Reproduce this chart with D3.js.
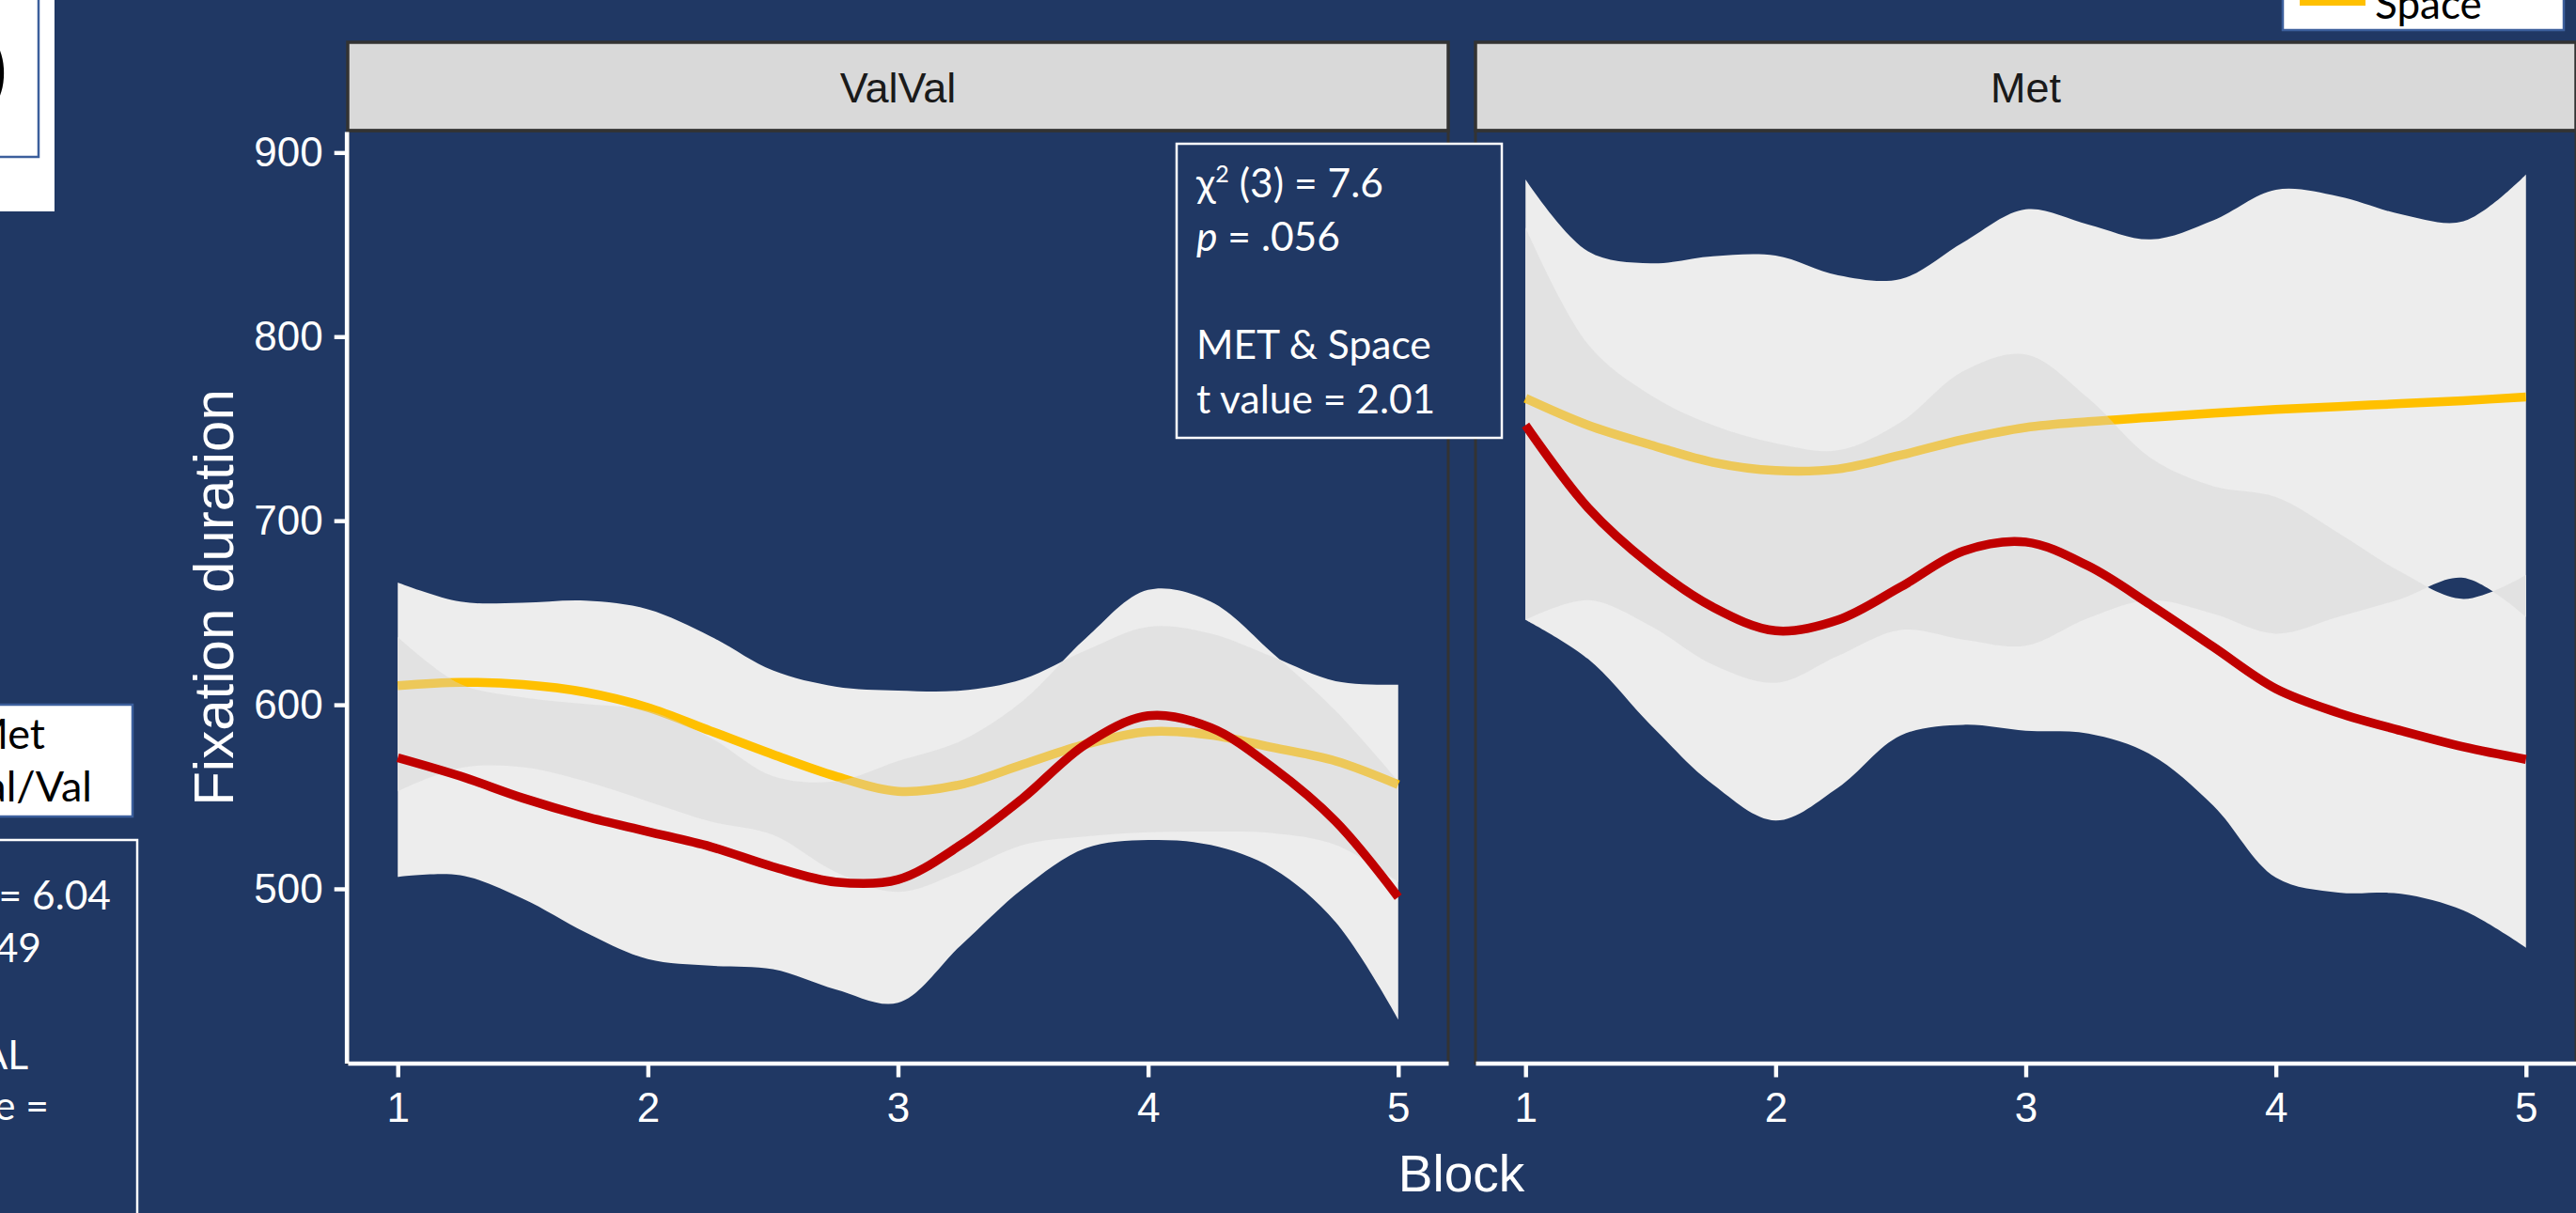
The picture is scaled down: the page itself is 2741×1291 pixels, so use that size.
<!DOCTYPE html>
<html>
<head>
<meta charset="utf-8">
<script src="https://cdn.jsdelivr.net/npm/d3@7"></script>
<style>
  html, body { margin: 0; padding: 0; background: #203864; overflow: hidden; }
  svg { display: block; }
</style>
</head>
<body>
<svg id="chart"></svg>
<script>
const blocks = [1, 1.25, 1.5, 1.75, 2, 2.25, 2.5, 2.75, 3, 3.25, 3.5, 3.75, 4, 4.25, 4.5, 4.75, 5];
const facetNames = ['ValVal', 'Met'];
const blockTicks = [1, 2, 3, 4, 5];
const durationTicks = [500, 600, 700, 800, 900];

const valSpaceFit = [610.4, 612.2, 611, 606.8, 598.5, 585.8, 573, 561.2, 553, 556.6, 567.6, 578.5, 585.4, 583.6, 576.7, 569.4, 556.6];
const valSpaceHi = [666.4, 656, 655.4, 656.5, 651.8, 637.2, 618.6, 609.9, 607.7, 607.7, 614, 629.5, 642.3, 638.7, 625.9, 612.8, 610.9];
const valSpaceLo = [553, 565.7, 566.1, 558.4, 547.5, 536.6, 529.3, 509.2, 498.3, 509.2, 523.8, 528.4, 530.7, 531.1, 530.2, 523.8, 503.7];
const valTimeFit = [571.2, 561.2, 549.3, 539.3, 531.1, 522.9, 512, 503.7, 505, 523.8, 549.3, 578.5, 594, 587.6, 565.7, 536.6, 495.5];
const valTimeHi = [636.8, 611.3, 604, 600.4, 596.7, 582.1, 561.2, 558.4, 569.4, 580.3, 602.2, 636, 662.4, 656, 627.7, 596.7, 558.4];
const valTimeLo = [506.5, 507.4, 494.6, 476.4, 461.8, 458.2, 456.3, 445.4, 438.1, 469.1, 500.1, 522, 526.5, 523.8, 511, 481.9, 429];

const metSpaceFit = [766.5, 751.9, 741.2, 731.7, 727.2, 728.1, 735.6, 744.1, 750.6, 753.8, 756.1, 758.4, 760.4, 762, 763.6, 765.2, 767.2];
const metSpaceHi = [885.4, 846.3, 839.8, 843.7, 844, 833.3, 831.3, 851.2, 869.1, 860.9, 852.8, 863.2, 879.8, 876.2, 866.5, 862.6, 888];
const metSpaceLo = [646.1, 656.8, 642.8, 621.7, 611.9, 626.6, 640.6, 635.4, 632.1, 647.1, 656.8, 649.4, 638.6, 647.7, 657.5, 668.9, 647.7];
const metTimeFit = [751.9, 707, 676, 653, 640.2, 646.1, 664, 683.5, 688.4, 675.4, 654.2, 631.4, 608.7, 595.6, 585.9, 577.1, 570.3];
const metTimeHi = [859.3, 795.8, 768.2, 751.9, 742.1, 738.2, 753.5, 781.2, 790.3, 766.5, 734, 718.7, 712.8, 693.3, 672.1, 657.5, 670.5];
const metTimeLo = [646.1, 624.9, 589.1, 556.6, 537.1, 555, 583.3, 589.1, 585.9, 584.3, 572.9, 545.2, 506.1, 498, 497.3, 488.2, 468];

var width = 2741, height = 1291;
var panelW = 1171, panelTop = 139, panelBottom = 1131.5, stripTop = 45;
var panelLefts = [370, 1570];
var plotFont = "'Liberation Sans', Arial, sans-serif";
var slideFont = "Lato, 'Open Sans', sans-serif";
var navy = '#203864';

var zip = (fit, lo, hi) => blocks.map((b, i) => ({ b: b, fit: fit[i], lo: lo[i], hi: hi[i] }));
var facets = [
  { name: facetNames[0], space: zip(valSpaceFit, valSpaceLo, valSpaceHi), time: zip(valTimeFit, valTimeLo, valTimeHi) },
  { name: facetNames[1], space: zip(metSpaceFit, metSpaceLo, metSpaceHi), time: zip(metTimeFit, metTimeLo, metTimeHi) }
];

var svg = d3.select('#chart').attr('width', width).attr('height', height);
svg.append('rect').attr('width', width).attr('height', height).attr('fill', navy);
var defs = svg.append('defs');

var y = d3.scaleLinear().domain([405.3, 911.4]).range([panelBottom, 140]);

var styleAxis = g => {
  g.attr('font-family', plotFont).attr('font-size', 44);
  g.select('.domain').attr('stroke', '#fff').attr('stroke-width', 4.6);
  g.selectAll('.tick line').attr('stroke', '#fff').attr('stroke-width', 4.4);
  g.selectAll('.tick text').attr('fill', '#fff');
};

facets.forEach((f, i) => {
  var left = panelLefts[i];
  var x = d3.scaleLinear().domain([0.8, 5.2]).range([left, left + panelW]);
  var g = svg.append('g');

  var band = d3.area()
    .x(d => x(d.b))
    .y0(d => y(d.lo))
    .y1(d => y(d.hi))
    .curve(d3.curveCatmullRom.alpha(0.5));
  var line = d3.line()
    .x(d => x(d.b))
    .y(d => y(d.fit))
    .curve(d3.curveCatmullRom.alpha(0.5));

  // strip
  g.append('rect')
    .attr('x', left).attr('y', stripTop)
    .attr('width', panelW).attr('height', panelTop - stripTop)
    .attr('fill', '#d9d9d9').attr('stroke', '#333').attr('stroke-width', 3.5);
  g.append('text')
    .attr('x', left + panelW / 2).attr('y', 109)
    .attr('text-anchor', 'middle')
    .attr('font-family', plotFont).attr('font-size', 45)
    .attr('fill', '#1a1a1a')
    .text(f.name);

  defs.append('clipPath').attr('id', 'spaceBand' + i)
    .append('path').attr('d', band(f.space));

  // union of both bands first, then the darker overlap on top of the space line
  g.append('path').attr('d', band(f.time)).attr('fill', '#ededed');
  g.append('path').attr('d', band(f.space)).attr('fill', '#ededed');
  g.append('path').attr('d', line(f.space))
    .attr('fill', 'none').attr('stroke', '#ffc000').attr('stroke-width', 9.5);
  g.append('path').attr('d', band(f.time))
    .attr('clip-path', 'url(#spaceBand' + i + ')')
    .attr('fill', 'rgb(212,212,212)').attr('fill-opacity', 0.42);
  g.append('path').attr('d', line(f.time))
    .attr('fill', 'none').attr('stroke', '#c00000').attr('stroke-width', 9.5);

  g.append('rect')
    .attr('x', left).attr('y', panelTop)
    .attr('width', panelW).attr('height', panelBottom - panelTop)
    .attr('fill', 'none').attr('stroke', '#333').attr('stroke-width', 3);

  g.append('g')
    .attr('transform', 'translate(0,' + panelBottom + ')')
    .call(d3.axisBottom(x).tickValues(blockTicks).tickFormat(d3.format('d'))
      .tickSize(15).tickSizeOuter(0).tickPadding(16))
    .call(styleAxis);

  if (i === 0) {
    g.append('g')
      .attr('transform', 'translate(368.7,0)')
      .call(d3.axisLeft(y).tickValues(durationTicks)
        .tickSize(13).tickSizeOuter(0).tickPadding(12))
      .call(styleAxis);
  }
});

// axis titles
svg.append('text')
  .attr('transform', 'translate(248,636) rotate(-90)')
  .attr('text-anchor', 'middle')
  .attr('font-family', plotFont).attr('font-size', 60).attr('fill', '#fff')
  .text('Fixation duration');
svg.append('text')
  .attr('x', 1555).attr('y', 1268)
  .attr('text-anchor', 'middle')
  .attr('font-family', plotFont).attr('font-size', 55).attr('fill', '#fff')
  .text('Block');

// statistics box over the ValVal panel
var stats = svg.append('g').attr('font-family', slideFont).attr('font-size', 42.5).attr('fill', '#fff');
stats.append('rect')
  .attr('x', 1252).attr('y', 153).attr('width', 346).attr('height', 313)
  .attr('fill', navy).attr('stroke', '#fff').attr('stroke-width', 2.5);
var l1 = stats.append('text').attr('x', 1273).attr('y', 210);
l1.append('tspan').text('χ');
l1.append('tspan').attr('font-size', 25).attr('dy', -16).text('2');
l1.append('tspan').attr('dy', 16).text(' (3) = 7.6');
var l2 = stats.append('text').attr('x', 1273).attr('y', 267);
l2.append('tspan').attr('font-style', 'italic').text('p');
l2.append('tspan').text(' = .056');
stats.append('text').attr('x', 1273).attr('y', 382).text('MET & Space');
stats.append('text').attr('x', 1273).attr('y', 440).text('t value = 2.01');

// pieces of the surrounding slide
var slide = svg.append('g').attr('font-family', slideFont);
slide.append('rect').attr('x', -5).attr('y', -5).attr('width', 63).attr('height', 230).attr('fill', '#fff');
slide.append('rect').attr('x', -5).attr('y', -5).attr('width', 46).attr('height', 172)
  .attr('fill', '#fff').attr('stroke', '#3c5f9c').attr('stroke-width', 2.5);
slide.append('text').attr('x', 8).attr('y', 104).attr('text-anchor', 'end')
  .attr('font-size', 84).attr('fill', '#000').text(')');

slide.append('rect').attr('x', -5).attr('y', 750).attr('width', 146).attr('height', 119)
  .attr('fill', '#fff').attr('stroke', '#3c5f9c').attr('stroke-width', 2.5);
slide.append('text').attr('x', 48).attr('y', 797).attr('text-anchor', 'end')
  .attr('font-size', 45).attr('fill', '#000').text('Met');
slide.append('text').attr('x', 98).attr('y', 853).attr('text-anchor', 'end')
  .attr('font-size', 45).attr('fill', '#000').text('Val/Val');

slide.append('rect').attr('x', -5).attr('y', 894).attr('width', 151).attr('height', 420)
  .attr('fill', navy).attr('stroke', '#fff').attr('stroke-width', 2.5);
[['= 6.04', 118, 968], ['49', 44, 1024], ['AL', 30, 1138], ['e =', 52, 1192]].forEach(t => {
  slide.append('text').attr('x', t[1]).attr('y', t[2]).attr('text-anchor', 'end')
    .attr('font-size', 42.5).attr('fill', '#fff').text(t[0]);
});

var legend = svg.append('g').attr('font-family', slideFont);
legend.append('rect').attr('x', 2429).attr('y', -5).attr('width', 299).attr('height', 37)
  .attr('fill', '#fff').attr('stroke', '#3c5f9c').attr('stroke-width', 2.5);
legend.append('rect').attr('x', 2447).attr('y', -5).attr('width', 70).attr('height', 11).attr('fill', '#ffc000');
legend.append('text').attr('x', 2527).attr('y', 20)
  .attr('font-size', 44).attr('fill', '#000').text('Space');
</script>
</body>
</html>
